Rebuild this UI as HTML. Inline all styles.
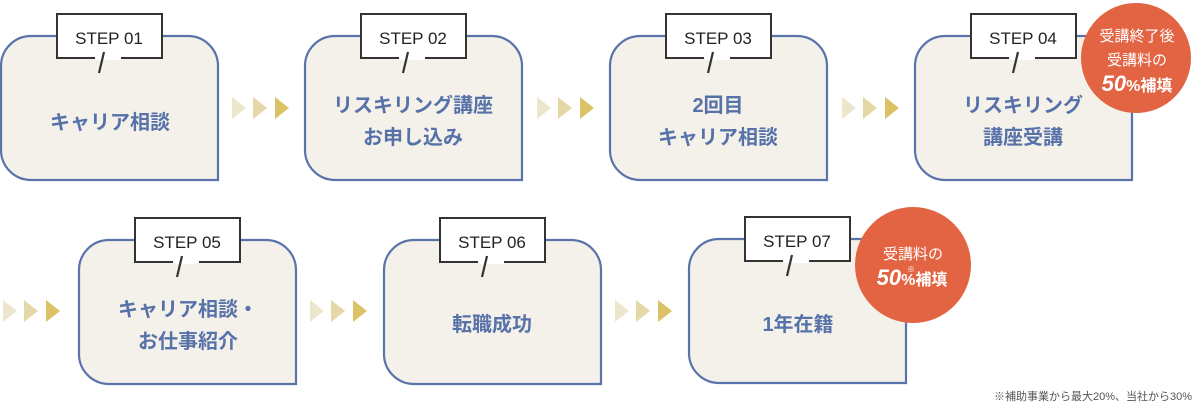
<!DOCTYPE html>
<html><head><meta charset="utf-8"><style>
html,body{margin:0;padding:0;background:#fff;}
svg{display:block;}
text{font-family:"Liberation Sans","Noto Sans CJK JP",sans-serif;}
.t{fill:#5771a9;font-weight:bold;font-size:20px;text-anchor:middle;}
.s{fill:#222;font-size:17px;text-anchor:middle;}
.c{fill:#fff;font-weight:bold;text-anchor:middle;}
</style></head><body>
<svg width="1200" height="411" viewBox="0 0 1200 411">
<defs>
<g id="box">
<path d="M30 0 H187 A30 30 0 0 1 217 30 V144 H30 A30 30 0 0 1 0 114 V30 A30 30 0 0 1 30 0 Z" fill="#f3f1ea" stroke="#5a74ab" stroke-width="2.2"/>
<path d="M94 22 H56 V-22 H161 V22 H120" fill="#fff" stroke="#333" stroke-width="2"/>
<rect x="95" y="12" width="25" height="12" fill="#fff"/>
<line x1="103" y1="16" x2="98" y2="37" stroke="#333" stroke-width="2.2"/>
</g>
<g id="arr">
<polygon points="0,0 14,11 0,22" fill="#ece6cc"/>
<polygon points="21,0 35,11 21,22" fill="#e4d8a6"/>
<polygon points="43,0 57,11 43,22" fill="#dcc266"/>
</g>
</defs>

<use href="#box" x="1" y="36"/>
<use href="#box" x="305" y="36"/>
<use href="#box" x="610" y="36"/>
<use href="#box" x="915" y="36"/>
<use href="#box" x="79" y="240"/>
<use href="#box" x="384" y="240"/>
<use href="#box" x="689" y="239"/>

<use href="#arr" x="232" y="97"/>
<use href="#arr" x="537" y="97"/>
<use href="#arr" x="842" y="97"/>
<use href="#arr" x="3" y="300"/>
<use href="#arr" x="310" y="300"/>
<use href="#arr" x="615" y="300"/>

<text class="s" x="109" y="44">STEP 01</text>
<text class="s" x="413" y="44">STEP 02</text>
<text class="s" x="718" y="44">STEP 03</text>
<text class="s" x="1023" y="44">STEP 04</text>
<text class="s" x="187" y="248">STEP 05</text>
<text class="s" x="492" y="248">STEP 06</text>
<text class="s" x="797" y="247">STEP 07</text>

<text class="t" x="110" y="129">キャリア相談</text>
<text class="t" x="413" y="112">リスキリング講座</text>
<text class="t" x="413" y="144">お申し込み</text>
<text class="t" x="718" y="112">2回目</text>
<text class="t" x="718" y="144">キャリア相談</text>
<text class="t" x="1023" y="112">リスキリング</text>
<text class="t" x="1023" y="144">講座受講</text>
<text class="t" x="188" y="316">キャリア相談・</text>
<text class="t" x="188" y="348">お仕事紹介</text>
<text class="t" x="492" y="331">転職成功</text>
<text class="t" x="798" y="331">1年在籍</text>

<circle cx="1136" cy="58" r="55" fill="#e36443"/>
<text class="c" x="1137" y="41" style="font-weight:normal;font-size:15px">受講終了後</text>
<text class="c" x="1137" y="65" style="font-weight:normal;font-size:15px">受講料の</text>
<text class="c" x="1137" y="91" style="font-size:16px"><tspan style="font-size:22px;font-style:italic">50</tspan>%補填</text>

<circle cx="913" cy="265" r="58" fill="#e36443"/>
<text class="c" x="913" y="259" style="font-weight:normal;font-size:15px">受講料の</text>
<text x="907" y="272" style="fill:#fff;font-size:8px">※</text>
<text class="c" x="912" y="285" style="font-size:16px"><tspan style="font-size:22px;font-style:italic">50</tspan>%補填</text>

<text x="1192" y="400" style="fill:#555;font-size:11px;text-anchor:end">※補助事業から最大20%、当社から30%</text>
</svg>
</body></html>
